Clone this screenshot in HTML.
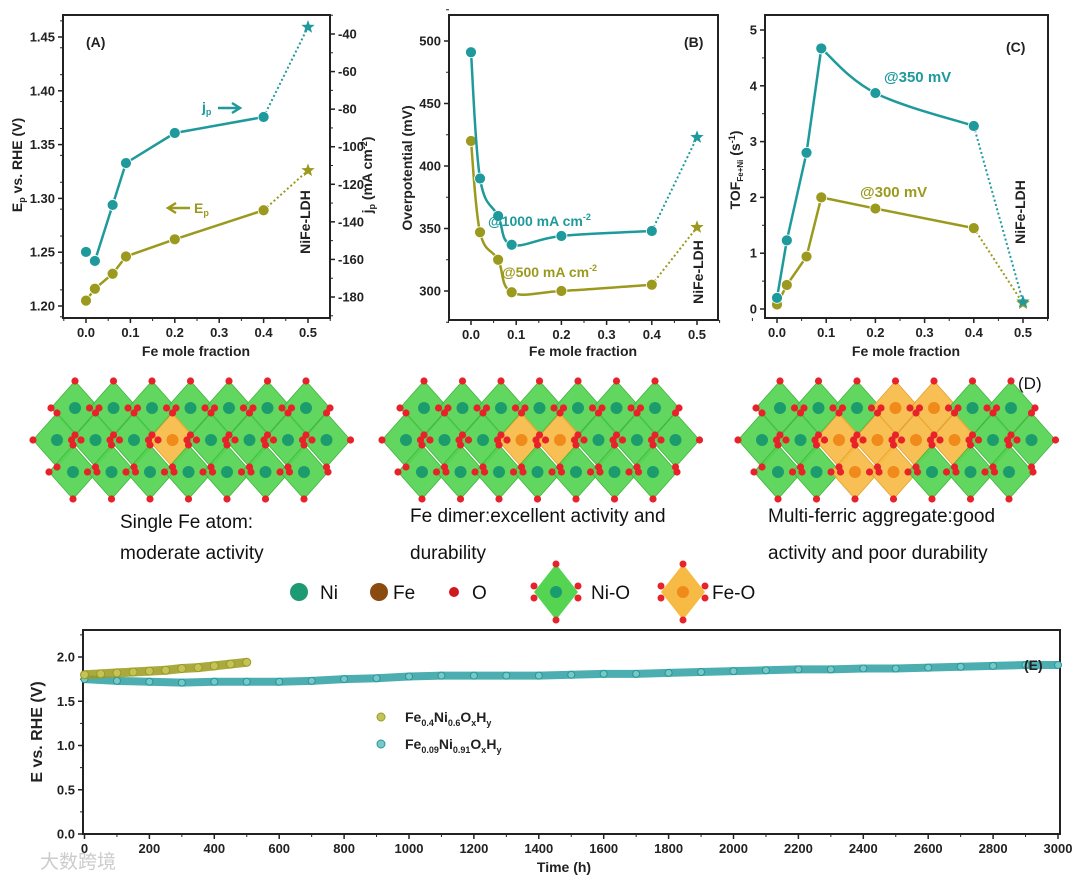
<!DOCTYPE html>
<html><head><meta charset="utf-8"><style>
html,body{margin:0;padding:0;background:#fff;}
svg{display:block;font-family:"Liberation Sans","Noto Sans CJK SC",sans-serif;}
.tk{font-size:13px;font-weight:bold;fill:#222;}
.lab{font-size:14px;font-weight:bold;fill:#222;}
.dtxt{font-size:19px;fill:#111;}
</style></head><body>
<svg id="fig" width="1080" height="882" viewBox="0 0 1080 882" xmlns="http://www.w3.org/2000/svg">
<g id="pA"></g>
<g id="pB"></g>
<g id="pC"></g>
<g id="pD"></g>
<g id="pE"></g>
</svg>
<script>
// ---------- data ----------
const xFe = [0, 0.02, 0.06, 0.09, 0.2, 0.4];
const xStar = 0.5;
const aEp = [1.205, 1.216, 1.230, 1.246, 1.262, 1.289];
const aEpStar = 1.326;
const aJp = [-156, -160.8, -131, -108.7, -92.7, -84.2];
const aJpStar = -36.3;
const aLeftTicks = [1.20, 1.25, 1.30, 1.35, 1.40, 1.45];
const aRightTicks = [-180, -160, -140, -120, -100, -80, -60, -40];
const xTicks = [0, 0.1, 0.2, 0.3, 0.4, 0.5];
const b1000 = [491, 390, 360, 337, 344, 348];
const b1000Star = 423;
const b500 = [420, 347, 325, 299, 300, 305];
const b500Star = 351;
const bTicks = [300, 350, 400, 450, 500];
const c350 = [0.2, 1.23, 2.8, 4.67, 3.87, 3.28];
const c350Star = 0.13;
const c300 = [0.08, 0.43, 0.94, 2.0, 1.8, 1.45];
const c300Star = 0.1;
const cTicks = [0, 1, 2, 3, 4, 5];
const eTimeTeal = [0,100,200,300,400,500,600,700,800,900,1000,1100,1200,1300,1400,1500,1600,1700,1800,1900,2000,2100,2200,2300,2400,2500,2600,2700,2800,2900,3000];
const eTeal = [1.75,1.73,1.72,1.71,1.72,1.72,1.72,1.73,1.75,1.76,1.78,1.79,1.79,1.79,1.79,1.80,1.81,1.81,1.82,1.83,1.84,1.85,1.86,1.86,1.87,1.87,1.88,1.89,1.90,1.91,1.91];
const eTimeOlive = [0,50,100,150,200,250,300,350,400,450,500];
const eOlive = [1.80,1.81,1.82,1.83,1.84,1.85,1.87,1.88,1.90,1.92,1.94];
const eXTicks = [0,200,400,600,800,1000,1200,1400,1600,1800,2000,2200,2400,2600,2800,3000];
const eYTicks = [0.0,0.5,1.0,1.5,2.0];

const TEAL = "#1f9a9c", OLIVE = "#9b9a1e";
const NS = "http://www.w3.org/2000/svg";
function mk(parent, tag, attrs, txt){
  const e = document.createElementNS(NS, tag);
  for (const k in attrs) e.setAttribute(k, attrs[k]);
  if (txt !== undefined) e.textContent = txt;
  parent.appendChild(e); return e;
}
function lin(d0,d1,r0,r1){return v => r0 + (v-d0)*(r1-r0)/(d1-d0);}
function catmull(pts){
  let d = "M"+pts[0][0]+","+pts[0][1];
  for (let i=0;i<pts.length-1;i++){
    const p0=pts[Math.max(i-1,0)],p1=pts[i],p2=pts[i+1],p3=pts[Math.min(i+2,pts.length-1)];
    const t=0.18;
    d += " C"+(p1[0]+(p2[0]-p0[0])*t)+","+(p1[1]+(p2[1]-p0[1])*t)+" "+(p2[0]-(p3[0]-p1[0])*t)+","+(p2[1]-(p3[1]-p1[1])*t)+" "+p2[0]+","+p2[1];
  }
  return d;
}
function star(cx,cy,r){
  let p=[];for(let i=0;i<10;i++){const a=-Math.PI/2+i*Math.PI/5;const rr=i%2?r*0.42:r;p.push((cx+rr*Math.cos(a)).toFixed(1)+","+(cy+rr*Math.sin(a)).toFixed(1));}
  return p.join(" ");
}
function frame(g,x0,y0,x1,y1){
  const r = mk(g,"rect",{x:x0,y:y0,width:x1-x0,height:y1-y0,fill:"none",stroke:"#222","stroke-width":2});
  
  
}
function xAxis(g, sx, y1, ticks, minorStep, fmt, lo, hi, label, lx, ly){
  ticks.forEach(t=>{
    const l = mk(g,"line",{x1:sx(t),x2:sx(t),y1:y1,y2:y1+5,stroke:"#222","stroke-width":1.5});
    
    
    const tx = mk(g,"text",{x:sx(t),y:y1+19,"text-anchor":"middle",class:"tk"},fmt(t));
    
    
  });
  for(let v=lo; v<=hi+1e-9; v+=minorStep){ mk(g,"line",{x1:sx(v),x2:sx(v),y1:y1,y2:y1+3,stroke:"#222","stroke-width":1}); }
  const t = mk(g,"text",{x:lx,y:ly,"text-anchor":"middle",class:"lab"},label);
  
  
}
function yAxis(g, sy, x, ticks, minorStep, lo, hi, fmt, side){
  const dir = side==="left"?-1:1;
  ticks.forEach(t=>{
    const l = mk(g,"line",{x1:x,x2:x+dir*5,y1:sy(t),y2:sy(t),stroke:"#222","stroke-width":1.5});
    
    
    const tx = mk(g,"text",{x:x+dir*8,y:sy(t)+4.5,"text-anchor":side==="left"?"end":"start",class:"tk"},fmt(t));
    
    
  });
  for(let v=lo; v<=hi+1e-9; v+=minorStep){ mk(g,"line",{x1:x,x2:x+dir*3,y1:sy(v),y2:sy(v),stroke:"#222","stroke-width":1}); }
}
function series(g, sx, sy, xs, ys, sv, color, mode, startIdx, name){
  const pts = xs.map((x,i)=>[sx(x),sy(ys[i])]);
  const lp = pts.slice(startIdx);
  let d;
  if (mode==="smooth") d = catmull(lp);
  else if (mode==="tail"){
    const head = lp.slice(0,4), tail = lp.slice(3);
    d = "M"+head.map(p=>p.join(",")).join(" L") + " " + catmull(tail).replace(/^M[^ ]+/,"");
  } else d = "M"+lp.map(p=>p.join(",")).join(" L");
  const ln = mk(g,"path",{d:d,fill:"none",stroke:color,"stroke-width":2.5});
  
  
  const last = pts[pts.length-1];
  const dl = mk(g,"line",{x1:last[0],y1:last[1],x2:sx(xStar),y2:sy(sv),stroke:color,"stroke-width":2,"stroke-dasharray":"2,2.5"});
  
  
  pts.forEach(p=>{
    const c = mk(g,"circle",{cx:p[0],cy:p[1],r:5.5,fill:color,stroke:"#fff","stroke-width":0.8});
    
    
  });
  const s = mk(g,"polygon",{points:star(sx(xStar),sy(sv),7),fill:color});
  
  
}
function rotText(g, x, y, html, name, cls){
  const t = mk(g,"text",{x:0,y:0,transform:"translate("+x+","+y+") rotate(-90)","text-anchor":"middle",class:cls||"lab"});
  t.innerHTML = html;
  
  
  return t;
}
function txt(g,x,y,html,name,attrs){
  const t = mk(g,"text",Object.assign({x:x,y:y},attrs||{}));
  t.innerHTML = html;
  
  
  return t;
}
const f1 = v=>v.toFixed(1), f2=v=>v.toFixed(2), f0=v=>String(v);

// ---------- Panel A ----------
(function(){
  const g = document.getElementById("pA");
  const sx = lin(0,0.5,86,308), sy = lin(1.20,1.45,306,37), sr = lin(-40,-180,34,297);
  frame(g,63,15,330,318);
  xAxis(g,sx,318,xTicks,0.05,f1,-0.05,0.55,"Fe mole fraction",196,356);
  yAxis(g,sy,63,aLeftTicks,0.025,1.19,1.47,f2,"left");
  yAxis(g,sr,330,aRightTicks,10,-190,-30,f0,"right");
  series(g,sx,sy,xFe,aEp,aEpStar,OLIVE,"line",0,"ep");
  series(g,sx,sr,xFe,aJp,aJpStar,TEAL,"line",1,"jp");
  rotText(g,22,165,'E<tspan font-size="9" dy="3">p</tspan><tspan dy="-3"> vs. RHE (V)</tspan>',"y-axis-title-left");
  rotText(g,372,175,'j<tspan font-size="9" dy="3">p</tspan><tspan dy="-3"> (mA cm</tspan><tspan font-size="9" dy="-5">-2</tspan><tspan dy="5">)</tspan>',"y-axis-title-right");
  rotText(g,310,222,'NiFe-LDH',"nife-ldh-label");
  txt(g,86,47,'(A)',"panel-label-a",{class:"lab"});
  txt(g,202,112,'j<tspan font-size="9" dy="3">p</tspan>',"jp-annotation",{class:"lab",style:"fill:"+TEAL});
  mk(g,"path",{d:"M218,108 L238,108 M232,103 L240,108 L232,113",stroke:TEAL,"stroke-width":2.5,fill:"none"});
  mk(g,"path",{d:"M190,208 L170,208 M176,203 L168,208 L176,213",stroke:OLIVE,"stroke-width":2.5,fill:"none"});
  txt(g,194,213,'E<tspan font-size="9" dy="3">p</tspan>',"ep-annotation",{class:"lab",style:"fill:"+OLIVE});
})();

// ---------- Panel B ----------
(function(){
  const g = document.getElementById("pB");
  const sx = lin(0,0.5,471,697), sy = lin(300,500,291,41);
  frame(g,449,15,718,320);
  xAxis(g,sx,320,xTicks,0.05,f1,-0.05,0.55,"Fe mole fraction",583,356);
  yAxis(g,sy,449,bTicks,25,275,525,f0,"left");
  series(g,sx,sy,xFe,b500,b500Star,OLIVE,"smooth",0,"b500");
  series(g,sx,sy,xFe,b1000,b1000Star,TEAL,"smooth",0,"b1000");
  rotText(g,412,168,'Overpotential (mV)',"y-axis-title");
  rotText(g,703,272,'NiFe-LDH',"nife-ldh-label");
  txt(g,684,47,'(B)',"panel-label-b",{class:"lab"});
  txt(g,488,226,'@1000 mA cm<tspan font-size="9" dy="-6">-2</tspan>',"label-1000",{style:"font-size:14px;font-weight:bold;fill:"+TEAL});
  txt(g,502,277,'@500 mA cm<tspan font-size="9" dy="-6">-2</tspan>',"label-500",{style:"font-size:14px;font-weight:bold;fill:"+OLIVE});
})();

// ---------- Panel C ----------
(function(){
  const g = document.getElementById("pC");
  const sx = lin(0,0.5,777,1023), sy = lin(0,5,309,30);
  frame(g,765,15,1048,318);
  xAxis(g,sx,318,xTicks,0.05,f1,-0.05,0.55,"Fe mole fraction",906,356);
  yAxis(g,sy,765,cTicks,0.5,0,5,f0,"left");
  series(g,sx,sy,xFe,c300,c300Star,OLIVE,"line",0,"c300");
  series(g,sx,sy,xFe,c350,c350Star,TEAL,"tail",0,"c350");
  rotText(g,740,170,'TOF<tspan font-size="8" dy="3">Fe+Ni</tspan><tspan dy="-3"> (s</tspan><tspan font-size="9" dy="-5">-1</tspan><tspan dy="5">)</tspan>',"y-axis-title");
  rotText(g,1025,212,'NiFe-LDH',"nife-ldh-label");
  txt(g,1006,52,'(C)',"panel-label-c",{class:"lab"});
  txt(g,884,82,'@350 mV',"label-350",{style:"font-size:15px;font-weight:bold;fill:"+TEAL});
  txt(g,860,197,'@300 mV',"label-300",{style:"font-size:15px;font-weight:bold;fill:"+OLIVE});
})();

// ---------- Panel D (structures) ----------
(function(){
  const g = document.getElementById("pD");
  const structs = [
    {x0:20, fe:[[],[3],[]], name:"single-fe-structure"},
    {x0:369, fe:[[],[3,4],[]], name:"fe-dimer-structure"},
    {x0:725, fe:[[3,4],[2,3,4,5],[2,3]], name:"multi-ferric-structure"}
  ];
  const rows = [{dx:55,y:408,n:7},{dx:37,y:440,n:8},{dx:53,y:472,n:7}];
  const SP = 38.5, HW = 24, HH = 27;
  structs.forEach(s=>{
    const sg = mk(g,"g",{});
    
    
    rows.forEach((r,ri)=>{
      for(let c=0;c<r.n;c++){
        const cx = s.x0+r.dx+c*SP, cy=r.y;
        const isFe = s.fe[ri].indexOf(c)>=0;
        mk(sg,"polygon",{points:(cx)+","+(cy-HH)+" "+(cx+HW)+","+cy+" "+cx+","+(cy+HH)+" "+(cx-HW)+","+cy,
          fill:isFe?"#f7bb45":"#55d452","fill-opacity":0.92,stroke:isFe?"#e0a030":"#3fb53c","stroke-width":0.8});
      }
    });
    rows.forEach((r,ri)=>{
      for(let c=0;c<r.n;c++){
        const cx = s.x0+r.dx+c*SP, cy=r.y;
        const isFe = s.fe[ri].indexOf(c)>=0;
        mk(sg,"circle",{cx:cx,cy:cy,r:6,fill:isFe?"#f08a1a":"#1c9c6c"});
        [[0,-HH],[0,HH],[-HW,0],[HW,0]].forEach(o=>mk(sg,"circle",{cx:cx+o[0],cy:cy+o[1],r:3.6,fill:"#e8222a"}));
      }
    });
  });
  txt(g,1018,389,'(D)',"panel-label-d",{style:"font-size:17px;fill:#111"});
  const lines = [
    [120,528,"Single Fe atom:"],[120,559,"moderate activity"],
    [410,522,"Fe dimer:excellent activity and"],[410,559,"durability"],
    [768,522,"Multi-ferric aggregate:good"],[768,559,"activity and poor durability"]];
  lines.forEach(l=>txt(g,l[0],l[1],l[2],"structure-caption",{class:"dtxt"}));
  mk(g,"circle",{cx:299,cy:592,r:9,fill:"#1d9a72"});
  txt(g,320,599,'Ni',"legend-ni",{class:"dtxt"});
  mk(g,"circle",{cx:379,cy:592,r:9,fill:"#8a4a10"});
  txt(g,393,599,'Fe',"legend-fe",{class:"dtxt"});
  mk(g,"circle",{cx:454,cy:592,r:5,fill:"#d01820"});
  txt(g,472,599,'O',"legend-o",{class:"dtxt"});
  [[556,"#55d452","#1c9c6c","Ni-O",591],[683,"#f7bb45","#f08a1a","Fe-O",712]].forEach(L=>{
    const cx=L[0], cy=592;
    mk(g,"polygon",{points:cx+","+(cy-28)+" "+(cx+22)+","+cy+" "+cx+","+(cy+28)+" "+(cx-22)+","+cy,fill:L[1]});
    mk(g,"circle",{cx:cx,cy:cy,r:6,fill:L[2]});
    [[0,-28],[0,28],[-22,-6],[22,-6],[-22,6],[22,6]].forEach(o=>mk(g,"circle",{cx:cx+o[0],cy:cy+o[1],r:3.5,fill:"#e8222a"}));
    txt(g,L[4],599,L[3],"legend-"+L[3].toLowerCase(),{class:"dtxt"});
  });
})();

// ---------- Panel E ----------
(function(){
  const g = document.getElementById("pE");
  const sx = lin(0,3000,84.5,1058), sy = lin(0,2.0,834,657);
  frame(g,83,630,1060,834);
  xAxis(g,sx,834,eXTicks,100,f0,0,3000,"Time (h)",564,872);
  yAxis(g,sy,83,eYTicks,0.25,0,2.25,f1,"left");
  rotText(g,42,732,'E vs. RHE (V)',"y-axis-title",null).setAttribute("style","font-size:16px;font-weight:bold;fill:#222");
  const tl = mk(g,"polyline",{points:eTimeTeal.map((t,i)=>sx(t)+","+sy(eTeal[i])).join(" "),fill:"none",stroke:TEAL,"stroke-width":8,"stroke-opacity":0.8});
  
  
  eTimeTeal.forEach((t,i)=>{
    const c = mk(g,"circle",{cx:sx(t),cy:sy(eTeal[i]),r:3.5,fill:"#7cc7c5",stroke:TEAL,"stroke-width":1});
    
    
  });
  const ol = mk(g,"polyline",{points:eTimeOlive.map((t,i)=>sx(t)+","+sy(eOlive[i])).join(" "),fill:"none",stroke:OLIVE,"stroke-width":9,"stroke-opacity":0.85});
  
  
  eTimeOlive.forEach((t,i)=>{
    const c = mk(g,"circle",{cx:sx(t),cy:sy(eOlive[i]),r:4,fill:"#c4c35a",stroke:OLIVE,"stroke-width":1});
    
    
  });
  txt(g,1024,670,'(E)',"panel-label-e",{class:"lab"});
  mk(g,"circle",{cx:381,cy:717,r:4,fill:"#c4c35a",stroke:OLIVE});
  txt(g,405,722,'Fe<tspan font-size="9" dy="4">0.4</tspan><tspan dy="-4">Ni</tspan><tspan font-size="9" dy="4">0.6</tspan><tspan dy="-4">O</tspan><tspan font-size="9" dy="4">x</tspan><tspan dy="-4">H</tspan><tspan font-size="9" dy="4">y</tspan>',"legend-fe04",{class:"lab"});
  mk(g,"circle",{cx:381,cy:744,r:4,fill:"#7cc7c5",stroke:TEAL});
  txt(g,405,749,'Fe<tspan font-size="9" dy="4">0.09</tspan><tspan dy="-4">Ni</tspan><tspan font-size="9" dy="4">0.91</tspan><tspan dy="-4">O</tspan><tspan font-size="9" dy="4">x</tspan><tspan dy="-4">H</tspan><tspan font-size="9" dy="4">y</tspan>',"legend-fe009",{class:"lab"});
  txt(g,40,868,'大数跨境',"watermark",{style:"font-size:19px;fill:#ccc"});
})();
</script>
</body></html>
